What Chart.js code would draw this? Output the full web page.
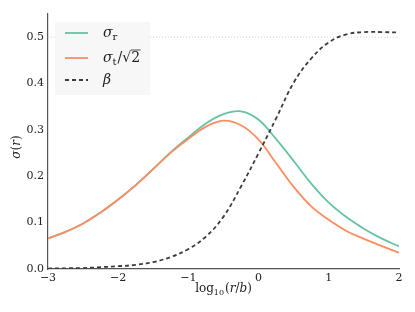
<!DOCTYPE html>
<html>
<head>
<meta charset="utf-8">
<script src="https://cdn.jsdelivr.net/npm/chart.js@4.4.1/dist/chart.umd.min.js"></script>
<style>
  html, body { margin: 0; padding: 0; background: #fff; }
  canvas { display: block; }
</style>
</head>
<body>
<canvas id="chart" width="415" height="312"></canvas>
<script>
const logR   = [-3, -2.75, -2.5, -2.25, -2, -1.75, -1.5, -1.25, -1, -0.75, -0.5, -0.25, 0, 0.25, 0.5, 0.75, 1, 1.25, 1.5, 1.75, 2];
const sigmaR = [0.066, 0.080, 0.098, 0.122, 0.150, 0.181, 0.216, 0.252, 0.284, 0.314, 0.334, 0.340, 0.322, 0.280, 0.233, 0.184, 0.143, 0.112, 0.087, 0.066, 0.049];
const sigmaT = [0.066, 0.080, 0.098, 0.122, 0.150, 0.181, 0.216, 0.251, 0.281, 0.307, 0.320, 0.310, 0.279, 0.228, 0.177, 0.135, 0.106, 0.082, 0.065, 0.050, 0.035];
const beta   = [0.001, 0.0015, 0.002, 0.004, 0.006, 0.009, 0.015, 0.026, 0.043, 0.070, 0.113, 0.178, 0.250, 0.325, 0.402, 0.454, 0.489, 0.506, 0.511, 0.511, 0.510];
const refLine = [0.5, 0.5];
const refX    = [-3, 2];
const xTicks  = [-3, -2, -1, 0, 1, 2];
const yTicks  = [0, 0.1, 0.2, 0.3, 0.4, 0.5];

const GREEN = '#66c2a5';
const ORANGE = '#fc8d62';
const DARK = '#3d3d3d';
const AXIS = '#555555';
const INK = '#222222';
const SERIF = "'DejaVu Serif', 'Liberation Serif', serif";

const pts = ys => logR.map((x, i) => ({ x, y: ys[i] }));

// draw a run of [text, style] pieces; style: 'i' italic, 'n' normal, 's' subscript
function drawPieces(ctx, pieces, x, y, size) {
  pieces.forEach(([t, st]) => {
    const sz = st === 's' ? Math.round(size * 0.7) : size;
    ctx.font = (st === 'i' ? 'italic ' : '') + sz + 'px ' + SERIF;
    ctx.fillText(t, x, st === 's' ? y + size * 0.3 : y);
    x += ctx.measureText(t).width + (st === 's' ? 1 : 0);
  });
  return x;
}
function piecesWidth(ctx, pieces, size) {
  let w = 0;
  pieces.forEach(([t, st]) => {
    const sz = st === 's' ? Math.round(size * 0.7) : size;
    ctx.font = (st === 'i' ? 'italic ' : '') + sz + 'px ' + SERIF;
    w += ctx.measureText(t).width + (st === 's' ? 1 : 0);
  });
  return w;
}

// legend and axis titles drawn by hand so the math can be set properly
const mathPlugin = {
  id: 'mathText',
  afterDatasetsDraw(chart) {
    const { ctx, chartArea } = chart;
    const x0 = chartArea.left + 7, y0 = chartArea.top + 8;
    ctx.save();
    ctx.fillStyle = 'rgba(246,246,246,0.92)';
    ctx.fillRect(x0, y0, 95, 73);
    const rows = [
      { y: y0 + 11, color: GREEN, dash: [], text: [['σ', 'i'], ['r', 's']], root: false },
      { y: y0 + 36, color: ORANGE, dash: [], text: [['σ', 'i'], ['t', 's'], ['/√2', 'n']], root: true },
      { y: y0 + 58, color: DARK, dash: [4, 3], text: [['β', 'i']], root: false }
    ];
    ctx.textBaseline = 'middle';
    rows.forEach(r => {
      ctx.beginPath();
      ctx.setLineDash(r.dash);
      ctx.strokeStyle = r.color;
      ctx.lineWidth = 1.8;
      ctx.moveTo(x0 + 10, r.y);
      ctx.lineTo(x0 + 33, r.y);
      ctx.stroke();
      ctx.setLineDash([]);
      ctx.fillStyle = INK;
      const end = drawPieces(ctx, r.text, x0 + 48, r.y, 14);
      if (r.root) {
        ctx.font = '14px ' + SERIF;
        const w2 = ctx.measureText('2').width;
        ctx.beginPath();
        ctx.strokeStyle = INK;
        ctx.lineWidth = 0.8;
        ctx.moveTo(end - w2 - 0.5, r.y - 8);
        ctx.lineTo(end + 0.5, r.y - 8);
        ctx.stroke();
      }
    });

    // x title: log10(r/b)
    const xt = [['log', 'n'], ['10', 's'], ['(', 'n'], ['r', 'i'], ['/', 'n'], ['b', 'i'], [')', 'n']];
    const cx = (chartArea.left + chartArea.right) / 2;
    drawPieces(ctx, xt, cx - piecesWidth(ctx, xt, 12) / 2, 289, 12);

    // y title: sigma(r)
    const yt = [['σ', 'i'], ['(', 'n'], ['r', 'i'], [')', 'n']];
    ctx.translate(17, 147);
    ctx.rotate(-Math.PI / 2);
    drawPieces(ctx, yt, -piecesWidth(ctx, yt, 12) / 2, 0, 12);
    ctx.restore();
  }
};

const curve = (ys, color, order, dash) => ({
  data: pts(ys), borderColor: color, borderWidth: 1.8, borderDash: dash || [],
  pointRadius: 0, tension: 0.4, order
});

new Chart(document.getElementById('chart'), {
  type: 'line',
  data: {
    datasets: [
      { data: refX.map((x, i) => ({ x, y: refLine[i] })), borderColor: '#c4c4c4', borderWidth: 0.8, borderDash: [1, 2], pointRadius: 0, order: 4 },
      curve(sigmaR, GREEN, 3),
      curve(sigmaT, ORANGE, 2),
      curve(beta, DARK, 1, [4, 3])
    ]
  },
  options: {
    responsive: false,
    animation: false,
    events: [],
    layout: { padding: { top: 14, right: 16, left: 0, bottom: 0 } },
    plugins: { legend: { display: false }, tooltip: { enabled: false } },
    scales: {
      x: {
        type: 'linear',
        min: -3,
        max: 2,
        afterBuildTicks: s => { s.ticks = xTicks.map(v => ({ value: v })); },
        afterFit: s => { s.height = 43; },
        grid: { display: false, drawTicks: false },
        border: { display: true, color: AXIS, width: 1.2 },
        ticks: {
          padding: 3,
          color: INK,
          font: { family: SERIF, size: 11 },
          callback: v => (v < 0 ? '\u2212' + Math.abs(v) : String(v))
        }
      },
      y: {
        type: 'linear',
        min: 0,
        max: 0.55,
        afterBuildTicks: s => { s.ticks = yTicks.map(v => ({ value: v })); },
        afterFit: s => { s.width = 48; },
        grid: { display: false, drawTicks: false },
        border: { display: true, color: AXIS, width: 1.2 },
        ticks: {
          padding: 4,
          color: INK,
          font: { family: SERIF, size: 11 },
          callback: v => v.toFixed(1)
        }
      }
    }
  },
  plugins: [mathPlugin]
});
</script>
</body>
</html>
